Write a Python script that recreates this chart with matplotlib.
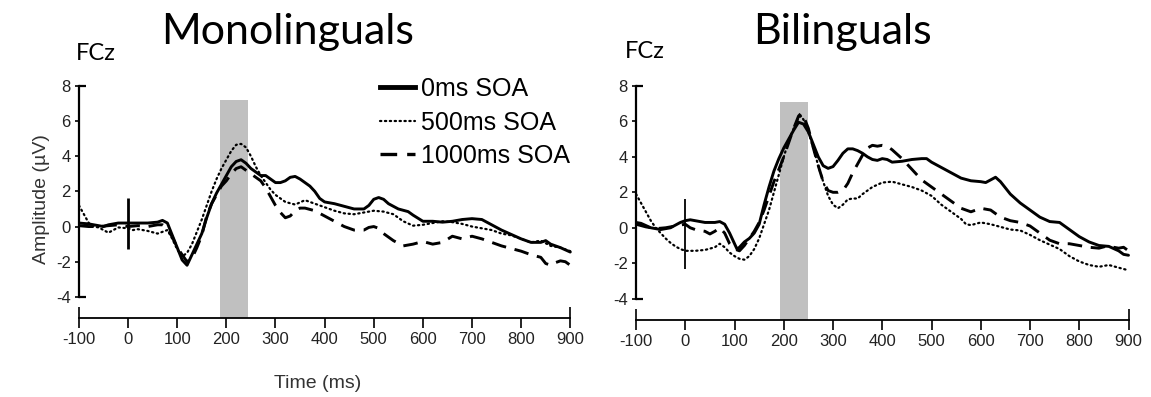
import matplotlib.pyplot as plt
from matplotlib.lines import Line2D

# ---- Monolinguals (left panel) ----
mono_t0 = [-100, -80, -60, -50, -40, -20, 0, 20, 40, 60, 70, 80, 90, 100, 110, 120, 130, 140, 150,
           160, 170, 180, 190, 200, 210, 220, 230, 240, 250, 260, 270, 280, 290, 300, 310, 320, 330,
           340, 350, 360, 370, 380, 390, 400, 420, 440, 460, 480, 490, 500, 510, 520, 530, 550, 570,
           580, 600, 620, 640, 660, 680, 700, 720, 740, 760, 780, 800, 820, 840, 850, 860, 880, 900]
mono_v0 = [0.2, 0.15, 0.05, 0.0, 0.1, 0.2, 0.2, 0.2, 0.2, 0.25, 0.35, 0.2, -0.5, -1.2, -1.9, -2.2,
           -1.6, -1.0, -0.4, 0.5, 1.3, 1.9, 2.4, 2.9, 3.4, 3.7, 3.8, 3.6, 3.3, 3.1, 2.9, 2.9, 2.7,
           2.5, 2.5, 2.6, 2.8, 2.85, 2.7, 2.5, 2.3, 2.0, 1.6, 1.4, 1.3, 1.15, 1.0, 1.0, 1.2, 1.55,
           1.65, 1.55, 1.3, 1.0, 0.85, 0.65, 0.3, 0.3, 0.25, 0.3, 0.4, 0.45, 0.4, 0.1, -0.2, -0.45,
           -0.7, -0.9, -0.9, -0.8, -1.0, -1.2, -1.45]

mono_t500 = [-100, -90, -80, -70, -60, -50, -40, -30, -20, 0, 10, 20, 40, 60, 70, 80, 90, 100, 110,
             120, 130, 140, 150, 160, 170, 180, 190, 200, 210, 220, 230, 240, 250, 260, 270, 280,
             290, 300, 320, 340, 360, 380, 400, 420, 440, 460, 480, 500, 520, 540, 560, 580, 600,
             620, 640, 660, 680, 700, 720, 740, 760, 780, 800, 820, 840, 850, 860, 880, 900]
mono_v500 = [1.2, 0.7, 0.2, 0.0, -0.05, -0.2, -0.35, -0.2, -0.05, -0.1, -0.2, -0.15, -0.25, -0.4,
             -0.3, -0.2, -0.7, -1.3, -1.7, -1.5, -1.0, -0.3, 0.4, 1.2, 2.0, 2.7, 3.3, 3.8, 4.3,
             4.65, 4.7, 4.5, 4.0, 3.4, 2.9, 2.5, 2.1, 1.8, 1.4, 1.25, 1.5, 1.3, 1.1, 0.9, 0.75, 0.7,
             0.8, 0.9, 0.85, 0.7, 0.3, 0.05, 0.1, 0.2, 0.3, 0.25, 0.15, 0.0, -0.1, -0.2, -0.4, -0.5,
             -0.7, -0.9, -0.8, -0.95, -1.1, -1.2, -1.4]

mono_t1000 = [-100, -80, -60, -40, -20, 0, 20, 40, 60, 70, 80, 90, 100, 110, 120, 130, 140, 150,
              160, 170, 180, 190, 200, 210, 220, 230, 240, 250, 260, 270, 280, 290, 300, 310, 320,
              330, 340, 350, 360, 380, 400, 420, 440, 460, 480, 490, 500, 510, 520, 540, 560, 580,
              600, 620, 640, 660, 680, 700, 720, 740, 760, 780, 800, 820, 840, 850, 860, 870, 880,
              890, 900]
mono_v1000 = [0.05, 0.0, 0.0, 0.05, 0.1, 0.0, 0.05, 0.0, 0.1, 0.1, -0.1, -0.6, -1.2, -1.6, -2.0,
              -1.8, -1.2, -0.5, 0.6, 1.3, 1.8, 2.3, 2.6, 3.0, 3.3, 3.4, 3.2, 3.0, 2.8, 2.6, 2.2,
              1.7, 1.2, 0.8, 0.5, 0.6, 0.9, 1.05, 1.05, 0.9, 0.6, 0.3, 0.0, -0.2, -0.2, -0.05, 0.0,
              -0.1, -0.4, -0.8, -1.1, -1.0, -0.85, -1.0, -0.9, -0.55, -0.7, -0.55, -0.7, -0.9,
              -1.1, -1.25, -1.4, -1.6, -1.75, -2.1, -2.2, -2.05, -1.95, -2.0, -2.2]

# ---- Bilinguals (right panel) ----
bi_t0 = [-100, -90, -70, -50, -30, -10, 0, 10, 20, 40, 60, 70, 80, 90, 100, 105, 110, 120, 130,
         140, 150, 160, 170, 180, 190, 200, 210, 220, 230, 240, 250, 260, 270, 280, 290, 300, 310,
         320, 330, 340, 350, 360, 370, 380, 390, 400, 410, 420, 440, 460, 480, 490, 500, 520, 540,
         560, 580, 600, 610, 620, 630, 640, 660, 680, 700, 720, 740, 760, 780, 800, 820, 840, 860,
         880, 890, 900]
bi_v0 = [0.3, 0.25, 0.0, -0.1, 0.0, 0.3, 0.4, 0.45, 0.4, 0.3, 0.3, 0.35, 0.2, -0.3, -0.9, -1.2,
         -1.1, -0.8, -0.6, -0.3, 0.2, 1.3, 2.3, 3.2, 3.9, 4.5, 5.0, 5.5, 5.95, 5.85, 5.4, 4.7,
         4.0, 3.5, 3.35, 3.45, 3.8, 4.2, 4.45, 4.45, 4.35, 4.2, 4.0, 3.85, 3.8, 3.9, 3.85, 3.7,
         3.75, 3.85, 3.9, 3.9, 3.7, 3.4, 3.1, 2.8, 2.65, 2.6, 2.55, 2.7, 2.85, 2.6, 1.9, 1.4, 1.0,
         0.6, 0.35, 0.3, -0.1, -0.5, -0.8, -1.0, -1.05, -1.3, -1.5, -1.55]

bi_t500 = [-100, -90, -80, -70, -60, -50, -40, -30, -20, -10, 0, 20, 40, 60, 70, 80, 90, 100, 110,
           120, 130, 140, 150, 160, 170, 180, 190, 200, 210, 220, 230, 235, 240, 250, 260, 270,
           280, 290, 300, 310, 320, 330, 340, 350, 360, 380, 400, 420, 440, 460, 480, 500, 520,
           540, 560, 570, 580, 600, 620, 640, 660, 680, 700, 720, 740, 760, 780, 800, 820, 840,
           860, 880, 900]
bi_v500 = [1.9, 1.4, 0.9, 0.4, 0.0, -0.3, -0.6, -0.85, -1.05, -1.2, -1.3, -1.3, -1.25, -1.1, -0.9,
           -1.1, -1.4, -1.6, -1.75, -1.8, -1.6, -1.2, -0.6, 0.2, 1.0, 2.0, 3.0, 4.0, 4.9, 5.6,
           6.2, 6.3, 6.1, 5.4, 4.5, 3.5, 2.6, 1.8, 1.3, 1.1, 1.3, 1.6, 1.65, 1.65, 1.9, 2.3, 2.55,
           2.6, 2.45, 2.3, 2.1, 1.8, 1.3, 0.9, 0.5, 0.2, 0.15, 0.3, 0.2, 0.05, -0.1, -0.15, -0.4,
           -0.7, -0.95, -1.2, -1.6, -1.9, -2.1, -2.2, -2.1, -2.25, -2.4]

bi_t1000 = [-100, -80, -60, -40, -20, 0, 10, 20, 40, 50, 60, 70, 80, 90, 100, 110, 120, 130, 140,
            150, 160, 170, 180, 190, 200, 210, 220, 230, 235, 240, 250, 260, 270, 280, 290, 300,
            310, 320, 330, 340, 350, 360, 370, 380, 390, 400, 410, 420, 440, 460, 480, 500, 520,
            540, 560, 580, 600, 620, 640, 660, 680, 700, 720, 740, 760, 780, 800, 820, 840, 860,
            870, 880, 890, 900]
bi_v1000 = [0.2, 0.05, -0.05, 0.0, 0.1, 0.2, 0.0, -0.1, -0.2, -0.35, -0.2, 0.0, -0.3, -0.9, -1.2,
            -1.3, -1.0, -0.6, -0.2, 0.3, 1.0, 1.8, 2.6, 3.3, 4.0, 4.8, 5.6, 6.3, 6.45, 6.3, 5.6,
            4.5, 3.5, 2.6, 2.1, 2.0, 2.0, 2.1, 2.5, 3.1, 3.6, 4.1, 4.5, 4.65, 4.6, 4.65, 4.6, 4.4,
            3.9, 3.3, 2.7, 2.3, 1.9, 1.5, 1.1, 0.9, 1.1, 1.0, 0.6, 0.4, 0.3, 0.1, -0.3, -0.7, -0.9,
            -0.9, -1.0, -1.1, -1.15, -1.0, -1.1, -1.15, -1.1, -1.3]

labels = ['0ms SOA', '500ms SOA', '1000ms SOA']
xticks = [-100, 0, 100, 200, 300, 400, 500, 600, 700, 800, 900]
yticks = [-4, -2, 0, 2, 4, 6, 8]

plt.rcParams['font.family'] = ['Liberation Sans', 'DejaVu Sans']
plt.rcParams['axes.unicode_minus'] = False

fig = plt.figure(figsize=(11.51, 3.97), dpi=100)
ax1 = fig.add_axes([0.0686, 0.199, 0.429, 0.598])
ax2 = fig.add_axes([0.5526, 0.194, 0.430, 0.603])

panels = [
    (ax1, (mono_t0, mono_v0), (mono_t500, mono_v500), (mono_t1000, mono_v1000),
     (187, 245, 7.2), (1.6, -1.3, 2.0)),
    (ax2, (bi_t0, bi_v0), (bi_t500, bi_v500), (bi_t1000, bi_v1000),
     (192, 250, 7.1), (1.65, -2.3, 1.3)),
]

for ax, s0, s500, s1000, band, marker in panels:
    ymin = -5.2
    ax.fill_between([band[0], band[1]], ymin, band[2], color='#c0c0c0', lw=0, zorder=1)
    ax.plot(*s0, color='black', lw=2.1, solid_capstyle='round', zorder=3)
    ax.plot(*s500, color='black', lw=1.6, linestyle=(0, (0.6, 1.6)), dash_capstyle='round', zorder=3)
    ax.plot(*s1000, color='black', lw=2.1, linestyle=(0, (5, 3)), zorder=3)
    ax.vlines(0, marker[1], marker[0], color='black', lw=marker[2], zorder=4)

    ax.set_xlim(-100, 905)
    ax.set_ylim(ymin, 8.3)
    for side in ['top', 'right']:
        ax.spines[side].set_visible(False)
    ax.spines['left'].set_bounds(-4, 8)
    ax.spines['bottom'].set_bounds(-100, 900)
    ax.spines['left'].set_linewidth(1.6)
    ax.spines['bottom'].set_linewidth(1.3)
    ax.xaxis.remove_overlapping_locs = False
    ax.yaxis.remove_overlapping_locs = False
    ax.set_xticks(xticks)
    ax.set_xticks([-100, 900], minor=True)
    ax.set_yticks(yticks)
    ax.set_yticks([-4, 8], minor=True)
    ax.tick_params(axis='x', which='major', direction='out', length=7, width=1.2,
                   labelsize=12, pad=3, labelcolor='#222222')
    ax.tick_params(axis='x', which='minor', direction='in', length=8, width=1.2)
    ax.tick_params(axis='y', which='major', direction='out', length=3, width=1.2,
                   labelsize=12, pad=3, labelcolor='#222222')
    ax.tick_params(axis='y', which='minor', direction='in', length=5, width=1.6)
    ax.patch.set_alpha(0)

ax1.set_ylabel('Amplitude (\u00b5V)', fontsize=14, color='#333333', labelpad=4)
fig.text(318 / 1151, 1 - 383 / 397, 'Time (ms)', ha='center', va='center',
         fontsize=14, color='#333333')

fig.text(288 / 1151, 1 - 44 / 397, 'Monolinguals', ha='center', va='baseline',
         fontsize=31, family=['Lato', 'DejaVu Sans'])
fig.text(842 / 1151, 1 - 44 / 397, 'Bilinguals', ha='center', va='baseline',
         fontsize=31, family=['Lato', 'DejaVu Sans'])
fig.text(96 / 1151, 1 - 53 / 397, 'FCz', ha='center', va='center',
         fontsize=17, family=['Lato', 'DejaVu Sans'])
fig.text(645 / 1151, 1 - 52 / 397, 'FCz', ha='center', va='center',
         fontsize=17, family=['Lato', 'DejaVu Sans'])

handles = [
    Line2D([], [], color='black', lw=3.5),
    Line2D([], [], color='black', lw=1.6, linestyle=(0, (0.6, 1.6)), dash_capstyle='round'),
    Line2D([], [], color='black', lw=2.4, linestyle=(0, (5, 3))),
]
ax1.legend(handles, labels, loc='upper left', bbox_to_anchor=(0.61, 1.015), frameon=False,
           fontsize=18, handlelength=1.4, handletextpad=0.25, labelspacing=0.38,
           borderpad=0, borderaxespad=0)

fig.savefig('out.png', dpi=100)
